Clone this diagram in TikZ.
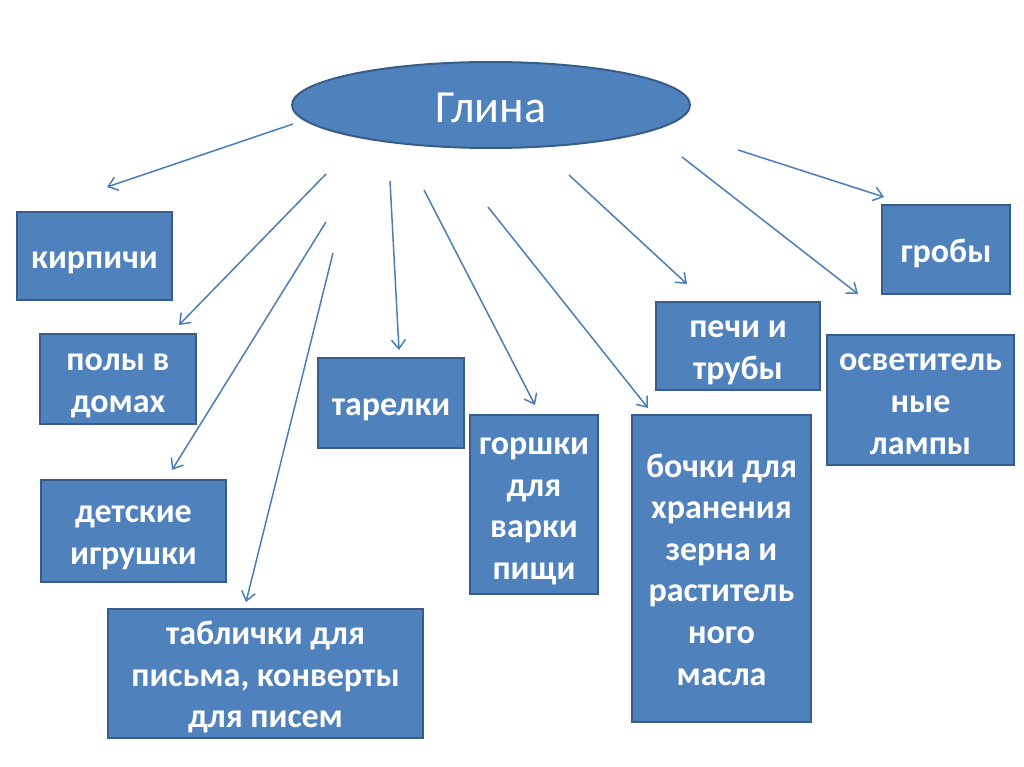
\documentclass[tikz,border=0pt]{standalone}
\usepackage{fontspec}
\setmainfont{Carlito}
\usetikzlibrary{arrows.meta,shapes.geometric}
\definecolor{boxblue}{RGB}{79, 129, 189}
\definecolor{edgeblue}{RGB}{56, 93, 138}
\definecolor{lineblue}{RGB}{74, 126, 187}

\begin{document}
\begin{tikzpicture}[x=1pt, y=-1pt,
        usebox/.style={draw=edgeblue, line width=2pt, fill=boxblue, text=white, align=center,
            inner sep=0pt, font=\fontsize{34}{41.6}\selectfont\bfseries,
            text height=35pt, text depth=10pt},
        lines/.style={text height={(#1-1)*41.6pt+35pt}},
        usearrow/.style={lineblue, line width=1.5pt, -{Straight Barb[length=9pt,width=14pt]}}]
    \useasboundingbox (0, 0) rectangle (1024, 767);
    % clay in the middle
    \node[ellipse, draw=edgeblue, line width=2pt, fill=boxblue, text=white, inner sep=0pt,
        minimum width=398, minimum height=86, font=\fontsize{46}{50}\selectfont,
        text height=42pt, text depth=7pt] (clay) at (491, 105) {Глина};
    % what is made of it
    \node[usebox, minimum width=155, minimum height=88] (bricks) at (94.5, 256) {кирпичи};
    \node[usebox, lines=2, minimum width=156, minimum height=90] (floors) at (118, 379) {полы в\\домах};
    \node[usebox, lines=2, minimum width=185, minimum height=102] (toys) at (133.5, 531) {детские\\игрушки};
    \node[usebox, lines=3, minimum width=315, minimum height=129] (tablets) at (265.5, 673.5) {таблички для\\письма, конверты\\для писем};
    \node[usebox, minimum width=146, minimum height=90] (plates) at (391, 403) {тарелки};
    \node[usebox, lines=4, minimum width=128, minimum height=179] (pots) at (534, 504.5) {горшки\\для\\варки\\пищи};
    \node[usebox, lines=6, minimum width=179, minimum height=307] (barrels) at (721.5, 568.5) {бочки для\\хранения\\зерна и\\раститель\\ного\\масла};
    \node[usebox, lines=2, minimum width=164, minimum height=88] (stoves) at (738, 346) {печи и\\трубы};
    \node[usebox, lines=3, minimum width=187, minimum height=130] (lamps) at (920.5, 400) {осветитель\\ные\\лампы};
    \node[usebox, minimum width=128, minimum height=89] (coffins) at (946, 249.5) {гробы};
    % free ends of the arrows
    \coordinate (a1) at (293, 124);  \coordinate (b1) at (107, 187);
    \coordinate (a2) at (326, 174);  \coordinate (b2) at (179, 325);
    \coordinate (a3) at (326, 222);  \coordinate (b3) at (172, 470);
    \coordinate (a4) at (333, 253);  \coordinate (b4) at (246, 602);
    \coordinate (a5) at (390, 181);  \coordinate (b5) at (399, 350);
    \coordinate (a6) at (424, 190);  \coordinate (b6) at (535, 405);
    \coordinate (a7) at (488, 207);  \coordinate (b7) at (648, 408);
    \coordinate (a8) at (569, 175);  \coordinate (b8) at (687, 284);
    \coordinate (a9) at (682, 157);  \coordinate (b9) at (858, 294);
    \coordinate (a10) at (738, 150); \coordinate (b10) at (884, 197);
    \foreach \i in {1,...,10}
        \draw[usearrow] (a\i) -- (b\i);
\end{tikzpicture}
\end{document}
